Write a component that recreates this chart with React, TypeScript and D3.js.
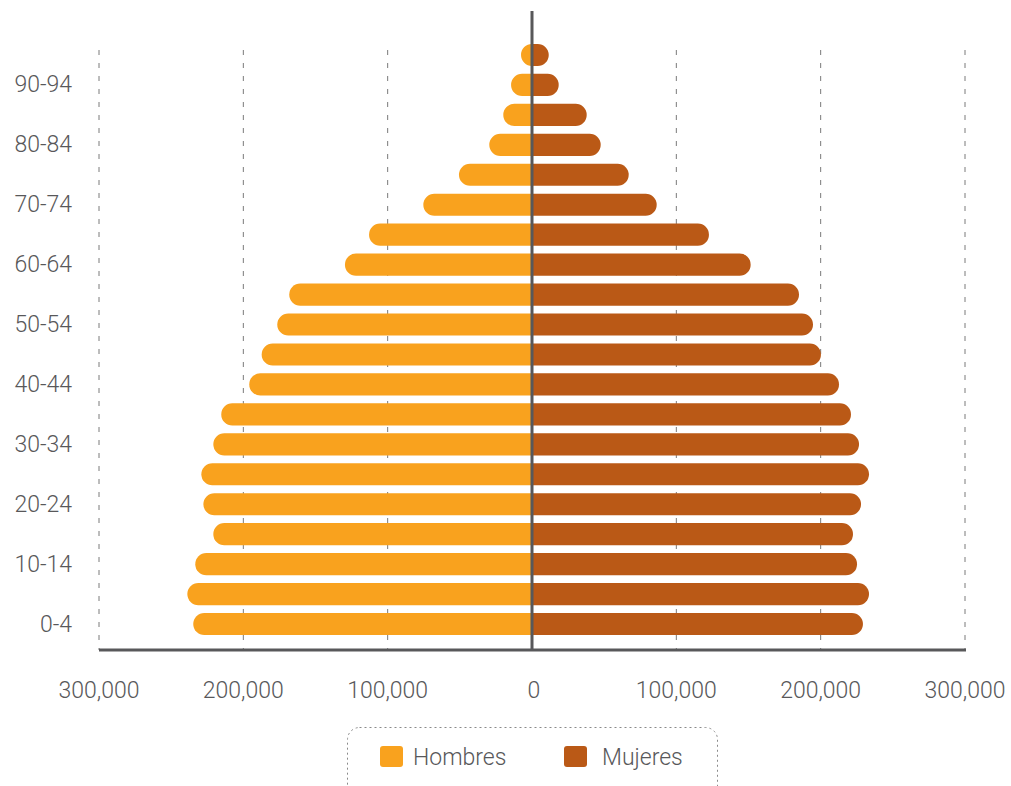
import React from "react";
import * as d3 from "d3";

const ageGroups = [
  "0-4", "5-9", "10-14", "15-19", "20-24", "25-29", "30-34", "35-39", "40-44", "45-49",
  "50-54", "55-59", "60-64", "65-69", "70-74", "75-79", "80-84", "85-89", "90-94", "95+",
];
const hombres = [
  234700, 238800, 233300, 220800, 227700, 229100, 220800, 215300, 195900, 187300,
  176500, 168200, 129600, 112900, 75300, 50600, 29600, 19900, 14500, 7600,
];
const mujeres = [
  229300, 233500, 225200, 222400, 228000, 233500, 226600, 221000, 212700, 200200,
  194700, 185000, 151500, 122600, 86400, 67000, 47600, 37900, 18500, 11600,
];
const xTicks = [-300000, -200000, -100000, 0, 100000, 200000, 300000];
const seriesNames = ["Hombres", "Mujeres"];
const seriesColors = ["#F9A21E", "#BA5916"];

const W = 1011;
const H = 786;
const FONT = "Roboto, 'Noto Sans', sans-serif";
const TEXT = "#58585A";

export default function App() {
  const x = d3.scaleLinear().domain([-300000, 300000]).range([99, 965]);
  const y = d3
    .scaleBand<string>()
    .domain([...ageGroups].reverse())
    .range([40, 639])
    .paddingInner(0.26)
    .paddingOuter(0.13);
  const bw = y.bandwidth();
  const fmt = d3.format(",");
  const x0 = x(0);

  const barPath = (v: number, top: number, dir: number) => {
    const end = x0 + dir * (x(Math.abs(v)) - x0);
    const len = Math.abs(end - x0);
    const r = Math.min(bw / 2, len);
    const p = d3.path();
    p.moveTo(x0, top);
    p.lineTo(end - dir * r, top);
    p.arcTo(end, top, end, top + r, r);
    p.lineTo(end, top + bw - r);
    p.arcTo(end, top + bw, end - dir * r, top + bw, r);
    p.lineTo(x0, top + bw);
    p.closePath();
    return p.toString();
  };

  return (
    <svg
      width={W}
      height={H}
      style={{ position: "absolute", left: 0, top: 0, background: "#fff" }}
      fontFamily={FONT}
      fontWeight={300}
    >
      {/* grid */}
      {xTicks
        .filter((t) => t !== 0)
        .map((t) => (
          <line
            key={"g" + t}
            x1={x(t)}
            x2={x(t)}
            y1={50}
            y2={650}
            stroke="#7a7a7a"
            strokeWidth={1}
            strokeDasharray="5,8"
          />
        ))}
      {/* bars */}
      {ageGroups.map((g, i) => {
        const top = y(g)!;
        return (
          <g key={g}>
            <path d={barPath(hombres[i], top, -1)} fill={seriesColors[0]} />
            <path d={barPath(mujeres[i], top, 1)} fill={seriesColors[1]} />
          </g>
        );
      })}
      {/* axes */}
      <line x1={x0} x2={x0} y1={11} y2={651} stroke="#58585A" strokeWidth={3} />
      <line x1={x(-300000)} x2={x(300000) + 1} y1={650} y2={650} stroke="#58585A" strokeWidth={3} />
      {/* y labels */}
      {ageGroups.map((g, i) =>
        i % 2 === 0 ? (
          <text
            key={"yl" + g}
            x={72}
            y={y(g)! + bw / 2}
            textAnchor="end"
            dominantBaseline="central"
            fontSize={23}
            fill={TEXT}
          >
            {g}
          </text>
        ) : null
      )}
      {/* x labels */}
      {xTicks.map((t) => (
        <text
          key={"xl" + t}
          x={x(t) + (t === 0 ? 2 : 0)}
          y={690}
          textAnchor="middle"
          dominantBaseline="central"
          fontSize={23}
          fill={TEXT}
        >
          {fmt(Math.abs(t))}
        </text>
      ))}
      {/* legend */}
      <rect
        x={347.5}
        y={727.5}
        width={370}
        height={80}
        rx={12}
        fill="none"
        stroke="#8a8a8a"
        strokeWidth={1}
        strokeDasharray="2,3"
      />
      {seriesNames.map((n, i) => {
        const lx = [380, 564][i];
        return (
          <g key={n}>
            <rect x={lx} y={746} width={23} height={21} rx={3} fill={seriesColors[i]} />
            <text
              x={lx + [33, 38][i]}
              y={757}
              dominantBaseline="central"
              fontSize={23}
              fill={TEXT}
            >
              {n}
            </text>
          </g>
        );
      })}
    </svg>
  );
}
